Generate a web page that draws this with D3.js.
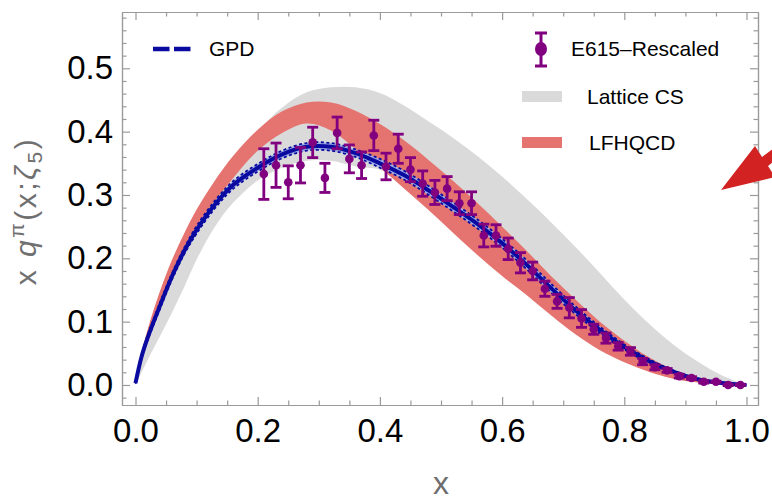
<!DOCTYPE html>
<html><head><meta charset="utf-8">
<script src="https://cdn.jsdelivr.net/npm/d3@7/dist/d3.min.js"></script>
<style>body{margin:0;background:#fff;} svg{display:block;}</style>
</head><body>
<svg id="chart" width="772" height="502"></svg>
<script>
// ---------- data ----------
const bandX = [0, 0.01, 0.02, 0.04, 0.06, 0.08, 0.1, 0.13, 0.16, 0.2, 0.24, 0.28, 0.32, 0.36, 0.4, 0.44, 0.48, 0.52, 0.56, 0.6, 0.64, 0.68, 0.72, 0.76, 0.8, 0.84, 0.88, 0.92, 0.96, 1.0];

const gpdCentral = [0.003, 0.045, 0.075, 0.125, 0.172, 0.212, 0.245, 0.285, 0.316, 0.343, 0.364, 0.376, 0.376, 0.366, 0.350, 0.331, 0.307, 0.281, 0.254, 0.224, 0.190, 0.153, 0.118, 0.087, 0.060, 0.038, 0.021, 0.009, 0.003, 0.0];
const gpdUpper   = [0.004, 0.048, 0.079, 0.130, 0.177, 0.217, 0.251, 0.291, 0.322, 0.349, 0.370, 0.382, 0.382, 0.372, 0.357, 0.338, 0.314, 0.288, 0.261, 0.231, 0.197, 0.160, 0.124, 0.092, 0.064, 0.041, 0.023, 0.010, 0.004, 0.0];
const gpdLower   = [0.002, 0.042, 0.071, 0.120, 0.167, 0.207, 0.239, 0.279, 0.310, 0.337, 0.358, 0.370, 0.370, 0.360, 0.343, 0.324, 0.300, 0.274, 0.247, 0.217, 0.183, 0.146, 0.112, 0.082, 0.056, 0.035, 0.019, 0.008, 0.002, 0.0];

const latticeUpper = [0.0, 0.04, 0.075, 0.13, 0.18, 0.22, 0.26, 0.31, 0.35, 0.40, 0.438, 0.462, 0.470, 0.470, 0.461, 0.441, 0.416, 0.390, 0.361, 0.329, 0.294, 0.257, 0.218, 0.177, 0.135, 0.097, 0.064, 0.037, 0.015, 0.0];
const latticeLower = [0.0, 0.02, 0.04, 0.077, 0.115, 0.155, 0.198, 0.25, 0.288, 0.323, 0.343, 0.354, 0.354, 0.345, 0.340, 0.320, 0.290, 0.256, 0.220, 0.186, 0.152, 0.120, 0.090, 0.064, 0.043, 0.026, 0.013, 0.005, 0.002, 0.0];

const lfhqcdUpper = [0.003, 0.05, 0.088, 0.148, 0.198, 0.24, 0.277, 0.323, 0.362, 0.403, 0.432, 0.446, 0.446, 0.433, 0.412, 0.386, 0.355, 0.322, 0.287, 0.25, 0.212, 0.172, 0.135, 0.10, 0.07, 0.044, 0.024, 0.01, 0.003, 0.0];
const lfhqcdLower = [0.0, 0.04, 0.072, 0.125, 0.172, 0.212, 0.247, 0.29, 0.327, 0.37, 0.398, 0.413, 0.402, 0.373, 0.343, 0.31, 0.276, 0.24, 0.205, 0.172, 0.142, 0.11, 0.08, 0.055, 0.036, 0.021, 0.01, 0.004, 0.001, 0.0];

const e615X   = [0.21, 0.23, 0.25, 0.27, 0.29, 0.31, 0.33, 0.35, 0.37, 0.39, 0.41, 0.43, 0.45, 0.47, 0.49, 0.51, 0.53, 0.55, 0.57, 0.59, 0.61, 0.63, 0.65, 0.67, 0.69, 0.71, 0.73, 0.75, 0.77, 0.79, 0.81, 0.83, 0.85, 0.87, 0.89, 0.91, 0.93, 0.95, 0.97, 0.99];
const e615Y   = [0.333, 0.347, 0.320, 0.347, 0.383, 0.327, 0.398, 0.357, 0.347, 0.394, 0.345, 0.373, 0.340, 0.318, 0.304, 0.310, 0.287, 0.287, 0.236, 0.236, 0.215, 0.193, 0.180, 0.152, 0.132, 0.122, 0.105, 0.088, 0.074, 0.061, 0.053, 0.037, 0.028, 0.023, 0.014, 0.011, 0.005, 0.005, 0.0, 0.0];
const e615Err = [0.040, 0.035, 0.026, 0.028, 0.024, 0.023, 0.025, 0.022, 0.021, 0.024, 0.021, 0.023, 0.019, 0.020, 0.019, 0.019, 0.018, 0.018, 0.018, 0.017, 0.017, 0.016, 0.014, 0.012, 0.011, 0.016, 0.014, 0.008, 0.008, 0.006, 0.006, 0.005, 0.004, 0.003, 0.003, 0.002, 0.002, 0.001, 0.001, 0.001];

const xMajorTicks = [0, 0.2, 0.4, 0.6, 0.8, 1.0];
const yMajorTicks = [0, 0.1, 0.2, 0.3, 0.4, 0.5];
const legendLabels = ["GPD", "E615\u2013Rescaled", "Lattice CS", "LFHQCD"];

// ---------- layout ----------
const svg = d3.select("#chart");
const FL = 122, FR = 758, FT = 12, FB = 405;
const x = d3.scaleLinear().domain([-0.0221, 1.0188]).range([FL, FR]);
const y = d3.scaleLinear().domain([-0.0316, 0.5889]).range([FB, FT]);

const C = {grey: "#dadada", red: "#e5736f", blue: "#0a0aa0", lightBlue: "#9eaee6", purple: "#800080", frame: "#9a9a9a"};

svg.append("rect").attr("width", 772).attr("height", 502).attr("fill", "#fff");
svg.append("clipPath").attr("id", "clip").append("rect")
  .attr("x", FL).attr("y", FT).attr("width", FR - FL).attr("height", FB - FT);
const plot = svg.append("g").attr("clip-path", "url(#clip)");

const curve = d3.curveCatmullRom.alpha(0.5);
function band(lo, hi) {
  return d3.area().curve(curve).x((d, i) => x(bandX[i])).y0((d, i) => y(lo[i])).y1((d, i) => y(hi[i]))(bandX);
}
function line(v) {
  return d3.line().curve(curve).x((d, i) => x(bandX[i])).y((d, i) => y(v[i]))(bandX);
}

plot.append("path").attr("d", band(latticeLower, latticeUpper)).attr("fill", C.grey);
plot.append("path").attr("d", band(lfhqcdLower, lfhqcdUpper)).attr("fill", C.red);
plot.append("path").attr("d", band(gpdLower, gpdUpper)).attr("fill", C.lightBlue);
[gpdUpper, gpdLower].forEach(v => plot.append("path").attr("d", line(v)).attr("fill", "none")
  .attr("stroke", C.blue).attr("stroke-width", 1.8).attr("stroke-dasharray", "3,2.5"));
plot.append("path").attr("d", line(gpdCentral)).attr("fill", "none")
  .attr("stroke", C.blue).attr("stroke-width", 4);

// E615 points with error bars
const pts = plot.append("g");
e615X.forEach((xv, i) => {
  const g = pts.append("g").attr("stroke", C.purple).attr("stroke-width", 2.8);
  const cx = x(xv), yt = y(e615Y[i] + e615Err[i]), yb = y(e615Y[i] - e615Err[i]);
  g.append("line").attr("x1", cx).attr("x2", cx).attr("y1", yt).attr("y2", yb);
  g.append("line").attr("x1", cx - 5.5).attr("x2", cx + 5.5).attr("y1", yt).attr("y2", yt);
  g.append("line").attr("x1", cx - 5.5).attr("x2", cx + 5.5).attr("y1", yb).attr("y2", yb);
  pts.append("circle").attr("cx", cx).attr("cy", y(e615Y[i])).attr("r", 4.3).attr("fill", C.purple);
});

// ---------- frame & axes ----------
const font = "'Liberation Sans', Arial, sans-serif";
function styleAxis(g) {
  g.select(".domain").attr("stroke", C.frame).attr("stroke-width", 1.2);
  g.selectAll(".tick line").attr("stroke", C.frame).attr("stroke-width", 1.2);
  g.selectAll("text").attr("fill", "#000").style("font-family", font).style("font-size", "33px");
}
const xMinor = d3.range(0, 1.0001, 0.05).filter(v => !xMajorTicks.some(t => Math.abs(t - v) < 1e-6));
const yMinor = d3.range(-0.02, 0.5801, 0.02).filter(v => !yMajorTicks.some(t => Math.abs(t - v) < 1e-6));

// bottom
svg.append("g").attr("transform", `translate(0,${FB})`)
  .call(d3.axisBottom(x).tickValues(xMajorTicks).tickSizeInner(-8).tickSizeOuter(0).tickPadding(14).tickFormat(d3.format(".1f")))
  .call(styleAxis);
svg.append("g").attr("transform", `translate(0,${FB})`)
  .call(d3.axisBottom(x).tickValues(xMinor).tickSizeInner(-4.5).tickSizeOuter(0).tickFormat(""))
  .call(styleAxis);
// top
svg.append("g").attr("transform", `translate(0,${FT})`)
  .call(d3.axisTop(x).tickValues(xMajorTicks).tickSizeInner(-8).tickSizeOuter(0).tickFormat(""))
  .call(styleAxis);
svg.append("g").attr("transform", `translate(0,${FT})`)
  .call(d3.axisTop(x).tickValues(xMinor).tickSizeInner(-4.5).tickSizeOuter(0).tickFormat(""))
  .call(styleAxis);
// left
svg.append("g").attr("transform", `translate(${FL},0)`)
  .call(d3.axisLeft(y).tickValues(yMajorTicks).tickSizeInner(-8).tickSizeOuter(0).tickPadding(9).tickFormat(d3.format(".1f")))
  .call(styleAxis);
svg.append("g").attr("transform", `translate(${FL},0)`)
  .call(d3.axisLeft(y).tickValues(yMinor).tickSizeInner(-4.5).tickSizeOuter(0).tickFormat(""))
  .call(styleAxis);
// right
svg.append("g").attr("transform", `translate(${FR},0)`)
  .call(d3.axisRight(y).tickValues(yMajorTicks).tickSizeInner(-8).tickSizeOuter(0).tickFormat(""))
  .call(styleAxis);
svg.append("g").attr("transform", `translate(${FR},0)`)
  .call(d3.axisRight(y).tickValues(yMinor).tickSizeInner(-4.5).tickSizeOuter(0).tickFormat(""))
  .call(styleAxis);

// axis titles
svg.append("text").attr("x", 441).attr("y", 494).attr("text-anchor", "middle")
  .attr("fill", "#6e6e6e").style("font-family", font).style("font-size", "32px").text("x");

const yt = svg.append("text").attr("transform", "translate(36,211) rotate(-90)").attr("text-anchor", "middle")
  .attr("fill", "#707070").style("font-family", font).style("font-size", "30px").style("letter-spacing", "2.5px");
yt.append("tspan").text("x ");
yt.append("tspan").style("font-style", "italic").text("q");
yt.append("tspan").attr("dy", -12).style("font-size", "21px").text("\u03c0");
yt.append("tspan").attr("dy", 12).text("(x;");
yt.append("tspan").style("font-style", "italic").text("\u03b6");
yt.append("tspan").attr("dy", 6).style("font-size", "21px").text("5");
yt.append("tspan").attr("dy", -6).text(")");

// ---------- legend ----------
const lg = svg.append("g").style("font-family", font).style("font-size", "21px");
lg.append("line").attr("x1", 153).attr("x2", 191).attr("y1", 49).attr("y2", 49)
  .attr("stroke", C.blue).attr("stroke-width", 4.5).attr("stroke-dasharray", "16.5,4.5");
lg.append("text").attr("x", 209).attr("y", 56).attr("fill", "#000").text(legendLabels[0]);

const lgE = lg.append("g").attr("stroke", C.purple).attr("stroke-width", 3);
lgE.append("line").attr("x1", 541).attr("x2", 541).attr("y1", 33).attr("y2", 66);
lgE.append("line").attr("x1", 535).attr("x2", 547).attr("y1", 33).attr("y2", 33);
lgE.append("line").attr("x1", 535).attr("x2", 547).attr("y1", 66).attr("y2", 66);
lg.append("ellipse").attr("cx", 541).attr("cy", 49).attr("rx", 6).attr("ry", 7).attr("fill", C.purple);
lg.append("text").attr("x", 571).attr("y", 56).attr("fill", "#000").text(legendLabels[1]);

lg.append("rect").attr("x", 522).attr("y", 91).attr("width", 40).attr("height", 11).attr("fill", C.grey);
lg.append("text").attr("x", 587).attr("y", 104).attr("fill", "#000").text(legendLabels[2]);
lg.append("rect").attr("x", 522).attr("y", 137).attr("width", 40).attr("height", 11).attr("fill", C.red);
lg.append("text").attr("x", 589).attr("y", 150).attr("fill", "#000").text(legendLabels[3]);

// red annotation arrow (partially outside the picture)
svg.append("path").attr("d", "M721,190 L755,146 L762,157 L790,136 L796,144 L768,166 L775,177 Z").attr("fill", "#d22222");
</script>
</body></html>
